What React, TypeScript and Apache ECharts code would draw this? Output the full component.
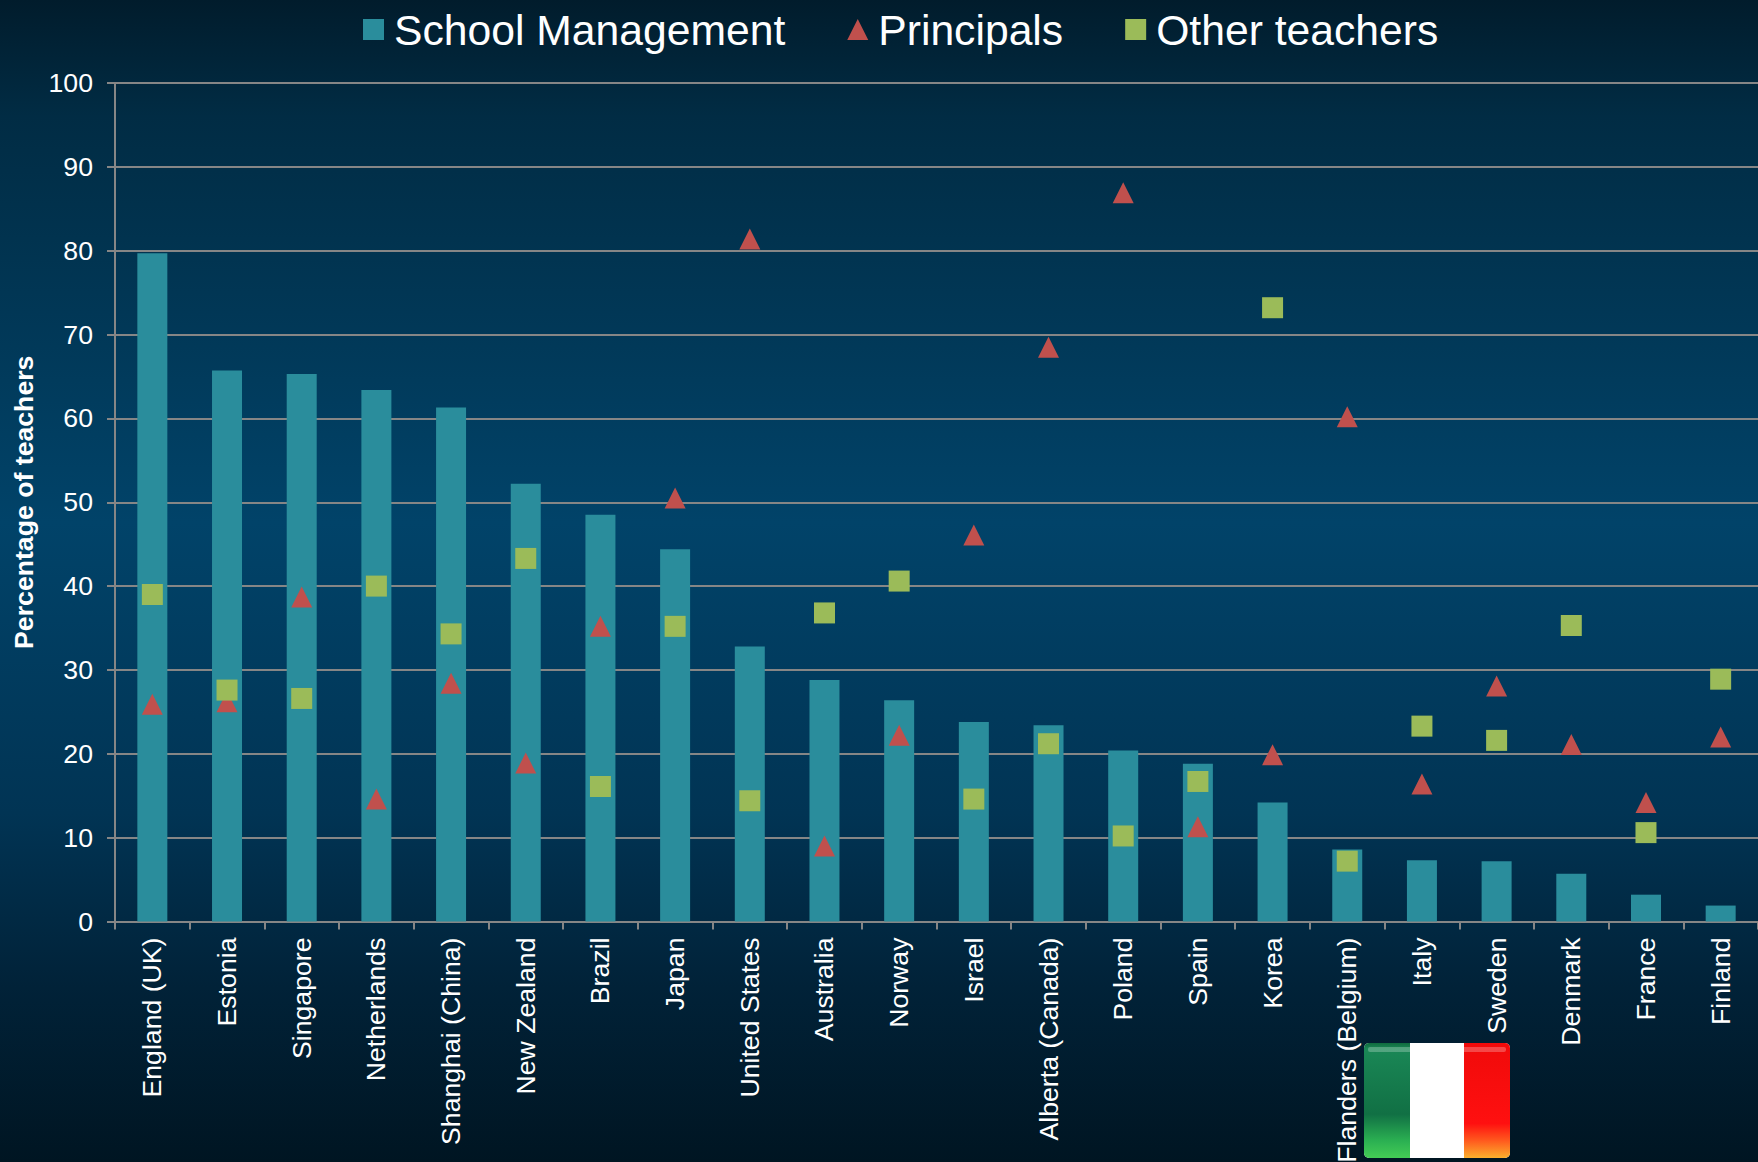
import React, { useEffect, useRef } from "react";
import * as echarts from "echarts";

const categories = ["England (UK)", "Estonia", "Singapore", "Netherlands", "Shanghai (China)", "New Zealand", "Brazil", "Japan", "United States", "Australia", "Norway", "Israel", "Alberta (Canada)", "Poland", "Spain", "Korea", "Flanders (Belgium)", "Italy", "Sweden", "Denmark", "France", "Finland"];
const schoolManagement = [79.7, 65.7, 65.3, 63.4, 61.3, 52.2, 48.5, 44.4, 32.8, 28.8, 26.4, 23.8, 23.4, 20.4, 18.8, 14.2, 8.6, 7.3, 7.2, 5.7, 3.2, 1.9];
const principals = [25.9, 26.2, 38.7, 14.6, 28.4, 18.9, 35.2, 50.5, 81.4, 9.0, 22.2, 46.1, 68.5, 86.9, 11.3, 19.9, 60.2, 16.4, 28.1, 21.1, 14.2, 22.0];
const otherTeachers = [39.0, 27.6, 26.6, 40.0, 34.3, 43.3, 16.1, 35.2, 14.4, 36.8, 40.6, 14.6, 21.2, 10.2, 16.7, 73.2, 7.2, 23.3, 21.6, 35.3, 10.6, 28.9];

const FONT = "Liberation Sans";
const vGrad = (stops: [number, string][]) =>
  new echarts.graphic.LinearGradient(0, 0, 0, 1, stops.map(([offset, color]) => ({ offset, color })));

export default function App() {
  const ref = useRef<HTMLDivElement>(null);
  useEffect(() => {
    const chart = echarts.init(ref.current!, null, { renderer: "svg" });
    chart.setOption({
      animation: false,
      backgroundColor: vGrad([[0, "#011c2c"], [0.1, "#012c44"], [0.45, "#014369"], [0.7, "#013454"], [0.85, "#012238"], [1, "#001522"]]),
      textStyle: { fontFamily: FONT },
      legend: {
        top: 3,
        left: 358,
        itemGap: 62,
        itemWidth: 21,
        itemHeight: 21,
        textStyle: { color: "#ffffff", fontSize: 42.67, fontFamily: FONT, padding: [0, 0, 0, 5] },
        data: [
          { name: "School Management", icon: "rect" },
          { name: "Principals", icon: "triangle" },
          { name: "Other teachers", icon: "rect" },
        ],
      },
      grid: { left: 115, right: 0, top: 83, bottom: 240.5, outerBoundsMode: "none" },
      xAxis: {
        type: "category",
        data: categories,
        axisLine: { lineStyle: { color: "#868686", width: 2 } },
        axisTick: { show: true, length: 8, alignWithLabel: false, lineStyle: { color: "#868686", width: 2 } },
        axisLabel: { interval: 0, rotate: 90, color: "#ffffff", fontSize: 26.67, fontFamily: FONT, margin: 16 },
      },
      yAxis: {
        type: "value",
        min: 0,
        max: 100,
        interval: 10,
        name: "Percentage of teachers",
        nameLocation: "middle",
        nameGap: 74,
        nameTextStyle: { color: "#ffffff", fontSize: 26.67, fontWeight: "bold", fontFamily: FONT },
        axisLine: { show: true, lineStyle: { color: "#868686", width: 2 } },
        axisTick: { show: true, length: 8, lineStyle: { color: "#868686", width: 2 } },
        splitLine: { lineStyle: { color: "#868686", width: 2 } },
        axisLabel: { color: "#ffffff", fontSize: 26.67, fontFamily: FONT, margin: 22 },
      },
      series: [
        { name: "School Management", type: "bar", barWidth: 30, data: schoolManagement, itemStyle: { color: "#2a8d9c" }, z: 2 },
        { name: "Principals", type: "scatter", symbol: "triangle", symbolSize: 21, data: principals, itemStyle: { color: "#c0504d", opacity: 1 }, z: 3 },
        { name: "Other teachers", type: "scatter", symbol: "rect", symbolSize: 21, data: otherTeachers, itemStyle: { color: "#9bbb59", opacity: 1 }, z: 4 },
      ],
      graphic: [
        {
          type: "group",
          x: 1364,
          y: 1043,
          z: 100,
          children: [
            { type: "rect", shape: { x: 0, y: 0, width: 146, height: 115, r: 5 }, style: { fill: "#ffffff" } },
            { type: "rect", shape: { x: 0, y: 0, width: 46, height: 115, r: [5, 0, 0, 5] }, style: { fill: vGrad([[0, "#0f6a3e"], [0.05, "#1a8756"], [0.62, "#117044"], [0.85, "#2bb052"], [1, "#44cc55"]]) } },
            { type: "rect", shape: { x: 100, y: 0, width: 46, height: 115, r: [0, 5, 5, 0] }, style: { fill: vGrad([[0, "#f00a0a"], [0.7, "#ff1010"], [0.85, "#ff5a1e"], [1, "#fbb02d"]]) } },
            { type: "rect", shape: { x: 4, y: 4, width: 138, height: 5, r: 2 }, style: { fill: "rgba(255,255,255,0.25)" } },
          ],
        },
      ],
    });
    return () => chart.dispose();
  }, []);
  return <div ref={ref} style={{ position: "fixed", left: 0, top: 0, width: 1758, height: 1162 }} />;
}
